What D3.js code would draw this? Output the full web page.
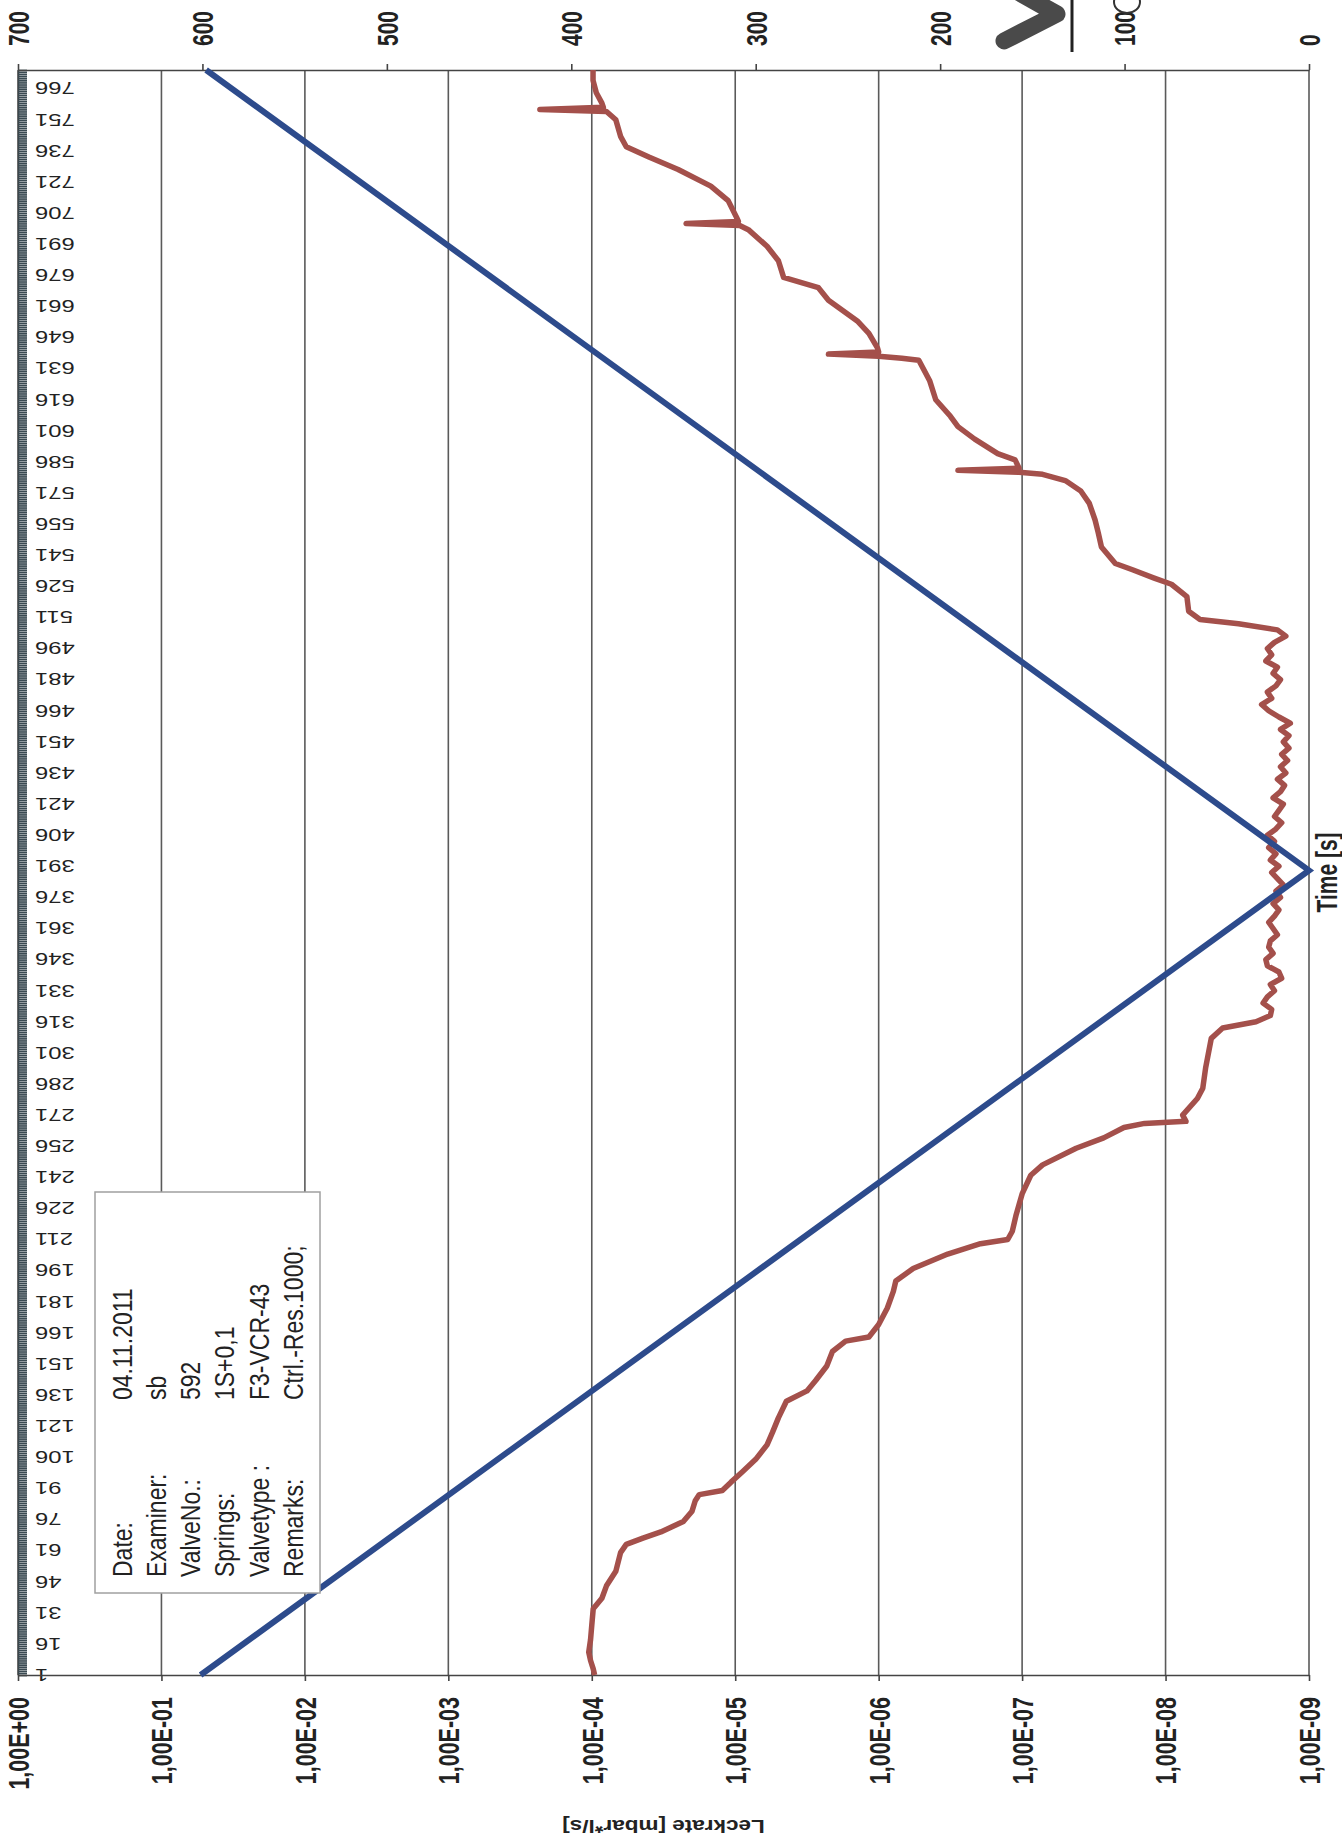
<!DOCTYPE html>
<html>
<head>
<meta charset="utf-8">
<script src="https://cdn.jsdelivr.net/npm/d3@7"></script>
<style>
  body { margin: 0; background: #fff; }
  text { font-family: "Liberation Sans", Arial, sans-serif; }
</style>
</head>
<body>
<script>
// category labels on the time axis
const timeTicks = [1, 16, 31, 46, 61, 76, 91, 106, 121, 136, 151, 166, 181, 196, 211, 226,
  241, 256, 271, 286, 301, 316, 331, 346, 361, 376, 391, 406, 421, 436, 451, 466, 481, 496,
  511, 526, 541, 556, 571, 586, 601, 616, 631, 646, 661, 676, 691, 706, 721, 736, 751, 766];
const timeCount = 775;

const leakTicks = [1, 1e-1, 1e-2, 1e-3, 1e-4, 1e-5, 1e-6, 1e-7, 1e-8, 1e-9];
const leakTickLabels = ["1,00E+00", "1,00E-01", "1,00E-02", "1,00E-03", "1,00E-04",
  "1,00E-05", "1,00E-06", "1,00E-07", "1,00E-08", "1,00E-09"];
const pressureTicks = [700, 600, 500, 400, 300, 200, 100, 0];

// pressure ramp (secondary axis), corner points
const pressureTime = [1, 389, 775];
const pressureValue = [601, 0, 598];

// leak rate (primary log axis)
const leakTime = [1, 4, 8, 12, 18, 25, 33, 38, 44, 51, 60, 64, 67, 70, 75, 80, 85, 88, 90, 94,
  99, 105, 112, 118, 125, 133, 138, 143, 150, 157, 162, 164, 170, 178, 186, 191, 197, 204, 209,
  211, 215, 223, 233, 242, 247, 255, 260, 265, 267, 268, 271, 279, 284, 294, 308, 313,
  316, 319, 322, 325, 328, 331, 334, 337, 340, 343, 346, 349, 352, 355, 358, 361, 364, 367,
  370, 373, 376, 379, 382, 385, 388, 391, 394, 397, 400, 403, 406, 409, 412, 415, 418, 421,
  424, 427, 430, 433, 436, 439, 442, 445, 448, 451, 454, 457, 460, 463, 466, 469, 472, 475,
  478, 481, 484, 487, 490, 493, 496, 499, 502, 505, 508, 510, 514, 521, 527, 530, 534, 537,
  545, 552, 558, 566, 572, 577, 580, 581, 582, 583, 587, 590, 597, 603, 608, 616, 625, 635,
  636, 637, 638, 639, 641, 648, 654, 664, 670, 675, 683, 690, 698, 700, 701, 702, 704, 712,
  719, 727, 733, 738, 743, 751, 755, 756, 757, 759, 764, 770, 775];
const leakValue = [9.55e-5, 9.77e-5, 1.02e-4, 1.05e-4, 1.02e-4, 1.0e-4, 9.77e-5, 8.5e-5, 7.9e-5,
  6.8e-5, 6.3e-5, 5.75e-5, 4.4e-5, 3.3e-5, 2.3e-5, 2.0e-5, 1.9e-5, 1.78e-5, 1.23e-5, 1.07e-5,
  8.9e-6, 7.2e-6, 6.0e-6, 5.5e-6, 5.0e-6, 4.4e-6, 3.16e-6, 2.75e-6, 2.3e-6, 2.1e-6, 1.7e-6,
  1.17e-6, 1.0e-6, 8.7e-7, 7.9e-7, 7.6e-7, 5.75e-7, 3.3e-7, 1.95e-7, 1.26e-7, 1.17e-7, 1.1e-7,
  1.0e-7, 8.7e-8, 7.2e-8, 4.2e-8, 2.7e-8, 1.95e-8, 1.4e-8, 7.2e-9, 7.6e-9, 6.0e-9, 5.5e-9,
  5.25e-9, 4.8e-9, 4.0e-9,
  2.34e-9, 1.86e-9, 1.82e-9, 2.09e-9, 1.95e-9, 1.74e-9, 1.86e-9, 1.55e-9, 1.62e-9, 1.95e-9,
  2.0e-9, 1.78e-9, 1.91e-9, 1.86e-9, 1.66e-9, 1.78e-9, 1.91e-9, 1.74e-9, 1.62e-9, 1.78e-9,
  1.58e-9, 1.70e-9, 1.51e-9, 1.66e-9, 1.82e-9, 1.62e-9, 1.86e-9, 1.70e-9, 1.91e-9, 1.74e-9,
  1.95e-9, 1.70e-9, 1.55e-9, 1.74e-9, 1.62e-9, 1.51e-9, 1.78e-9, 1.58e-9, 1.48e-9, 1.66e-9,
  1.45e-9, 1.58e-9, 1.41e-9, 1.55e-9, 1.38e-9, 1.51e-9, 1.38e-9, 1.58e-9, 1.35e-9, 1.62e-9,
  1.91e-9, 2.14e-9, 1.82e-9, 1.95e-9, 1.70e-9, 1.58e-9, 1.78e-9, 1.66e-9, 2.0e-9, 1.82e-9,
  1.95e-9, 1.74e-9, 1.45e-9, 1.66e-9, 3.1e-9, 5.75e-9, 6.9e-9, 7.1e-9, 9.1e-9, 1.2e-8, 1.7e-8,
  2.24e-8, 2.8e-8, 2.95e-8, 3.1e-8, 3.4e-8, 3.9e-8, 5.0e-8, 7.2e-8, 1.05e-7, 2.8e-7, 1.05e-7,
  1.12e-7, 1.48e-7, 2.14e-7, 2.8e-7, 3.16e-7, 4.0e-7, 4.4e-7, 5.25e-7, 6.9e-7, 1.0e-6, 2.24e-6,
  1.0e-6, 1.02e-6, 1.17e-6, 1.41e-6, 2.24e-6, 2.63e-6, 4.6e-6, 5.0e-6, 6.0e-6, 8.1e-6, 9.3e-6,
  2.2e-5, 9.5e-6, 9.8e-6, 1.12e-5, 1.48e-5, 2.5e-5, 4.0e-5, 5.75e-5, 6.3e-5, 6.8e-5, 7.9e-5,
  2.3e-4, 8.3e-5, 8.5e-5, 9.3e-5, 9.8e-5, 9.8e-5];

const infoLabels = ["Date:", "Examiner:", "ValveNo.:", "Springs:", "Valvetype :", "Remarks:"];
const infoValues = ["04.11.2011", "sb", "592", "1S+0,1", "F3-VCR-43", "Ctrl.-Res.1000;"];

const W = 1342, H = 1839;
const plotLeft = 18, plotRight = 1309, plotTop = 70, plotBottom = 1675;
const sx = 1.4; // the scan is stretched sideways

const svg = d3.select("body").append("svg")
  .attr("width", W)
  .attr("height", H);

const y = d3.scaleLinear().domain([1, timeCount]).range([plotBottom, plotTop]);
const xLeak = d3.scaleLog().domain([1, 1e-9]).range([plotLeft, plotRight]);
const xPres = d3.scaleLinear().domain([700, 0]).range([plotLeft, plotRight]);

// vertical gridlines
svg.append("g").selectAll("line")
  .data(leakTicks)
  .join("line")
  .attr("x1", d => xLeak(d))
  .attr("x2", d => xLeak(d))
  .attr("y1", plotTop)
  .attr("y2", plotBottom)
  .attr("stroke", "#5a5a5a")
  .attr("stroke-width", 1.6);

// time axis, one tick per second gives the dark band
const timeAxis = svg.append("g")
  .attr("transform", "translate(" + plotLeft + ",0)")
  .call(d3.axisRight(y).tickValues(d3.range(1, timeCount + 1)).tickSize(9).tickSizeOuter(0).tickFormat(""));
timeAxis.select(".domain").attr("stroke", "#444").attr("stroke-width", 1.6);
timeAxis.selectAll(".tick line").attr("stroke", "#3a4a52").attr("stroke-width", 1.7);

svg.append("g").selectAll("text")
  .data(timeTicks)
  .join("text")
  .attr("transform", d => "translate(35," + y(d) + ") scale(" + sx + ",1) rotate(180)")
  .attr("text-anchor", "end")
  .attr("dominant-baseline", "central")
  .attr("font-size", 17)
  .attr("fill", "#222")
  .text(d => d);

// leak rate axis (bottom)
const leakAxis = svg.append("g")
  .attr("transform", "translate(0," + plotBottom + ")")
  .call(d3.axisBottom(xLeak).tickValues(leakTicks).tickSize(6).tickSizeOuter(0)
    .tickFormat((d, i) => leakTickLabels[i]));
leakAxis.select(".domain").attr("stroke", "#444").attr("stroke-width", 1.6);
leakAxis.selectAll(".tick line").attr("stroke", "#444").attr("stroke-width", 1.6);
leakAxis.selectAll(".tick text")
  .attr("x", null).attr("y", null).attr("dy", null)
  .attr("transform", "translate(0,22) scale(" + sx + ",1) rotate(-90)")
  .attr("text-anchor", "end")
  .attr("dominant-baseline", "central")
  .attr("font-size", 21.5)
  .attr("font-weight", "bold")
  .attr("fill", "#222");

// pressure axis (top)
const presAxis = svg.append("g")
  .attr("transform", "translate(0," + plotTop + ")")
  .call(d3.axisTop(xPres).tickValues(pressureTicks).tickSize(6).tickSizeOuter(0));
presAxis.select(".domain").attr("stroke", "#444").attr("stroke-width", 1.6);
presAxis.selectAll(".tick line").attr("stroke", "#444").attr("stroke-width", 1.6);
presAxis.selectAll(".tick text")
  .attr("x", null).attr("y", null).attr("dy", null)
  .attr("transform", "translate(0,-24) scale(" + sx + ",1) rotate(-90)")
  .attr("text-anchor", "start")
  .attr("dominant-baseline", "central")
  .attr("font-size", 21)
  .attr("font-weight", "bold")
  .attr("fill", "#222");

// series
const leakLine = d3.line()
  .x(d => xLeak(d[1]))
  .y(d => y(d[0]));
svg.append("path")
  .datum(d3.zip(leakTime, leakValue))
  .attr("d", leakLine)
  .attr("fill", "none")
  .attr("stroke", "#a4504b")
  .attr("stroke-width", 5.5)
  .attr("stroke-linejoin", "round");

const presLine = d3.line()
  .x(d => xPres(d[1]))
  .y(d => y(d[0]));
svg.append("path")
  .datum(d3.zip(pressureTime, pressureValue))
  .attr("d", presLine)
  .attr("fill", "none")
  .attr("stroke", "#2d4b8c")
  .attr("stroke-width", 6)
  .attr("stroke-linejoin", "miter");

// info box
svg.append("rect")
  .attr("x", 95).attr("y", 1192)
  .attr("width", 225).attr("height", 401)
  .attr("fill", "#fff")
  .attr("stroke", "#a0a0a0")
  .attr("stroke-width", 1.5);

const col = d3.scalePoint().domain(infoLabels).range([122, 293]);
const info = svg.append("g").attr("font-size", 23).attr("fill", "#222");
info.selectAll("text.lab")
  .data(infoLabels)
  .join("text")
  .attr("class", "lab")
  .attr("transform", d => "translate(" + col(d) + ",1577) scale(1.2,1) rotate(-90)")
  .attr("dominant-baseline", "central")
  .text(d => d);
info.selectAll("text.val")
  .data(infoValues)
  .join("text")
  .attr("class", "val")
  .attr("transform", (d, i) => "translate(" + col(infoLabels[i]) + ",1400) scale(1.2,1) rotate(-90)")
  .attr("dominant-baseline", "central")
  .text(d => d);

// axis titles
svg.append("text")
  .attr("transform", "translate(1327," + ((plotTop + plotBottom) / 2) + ") scale(" + sx + ",1) rotate(-90)")
  .attr("text-anchor", "middle")
  .attr("dominant-baseline", "central")
  .attr("font-size", 21)
  .attr("font-weight", "bold")
  .attr("fill", "#222")
  .text("Time [s]");

svg.append("text")
  .attr("transform", "translate(" + ((plotLeft + plotRight) / 2) + ",1826) scale(1.25,1) rotate(180)")
  .attr("text-anchor", "middle")
  .attr("dominant-baseline", "central")
  .attr("font-size", 18)
  .attr("font-weight", "bold")
  .attr("fill", "#222")
  .text("Leckrate [mbar*l/s]");

// logo scrap in the corner
svg.append("path")
  .attr("d", "M1004,41 L1057,14 L1018,-8")
  .attr("fill", "none")
  .attr("stroke", "#4a4a4a")
  .attr("stroke-width", 17)
  .attr("stroke-linecap", "round")
  .attr("stroke-linejoin", "round");
svg.append("line")
  .attr("x1", 1072).attr("x2", 1072)
  .attr("y1", 0).attr("y2", 52)
  .attr("stroke", "#222")
  .attr("stroke-width", 3);
svg.append("ellipse")
  .attr("cx", 1127).attr("cy", 2)
  .attr("rx", 13).attr("ry", 11)
  .attr("fill", "none")
  .attr("stroke", "#333")
  .attr("stroke-width", 2);
</script>
</body>
</html>
